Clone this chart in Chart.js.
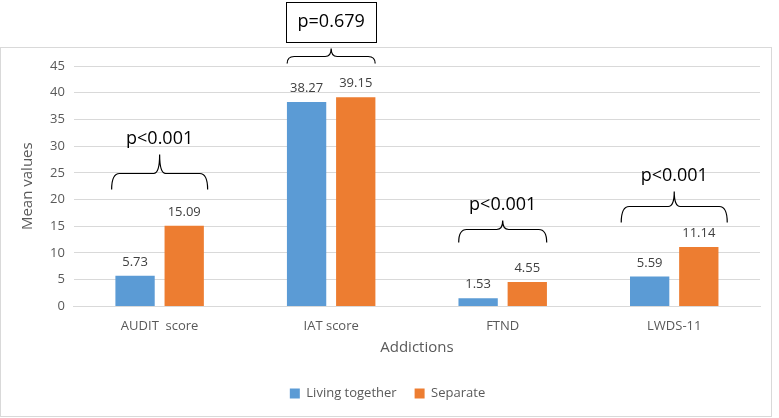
<!DOCTYPE html>
<html>
<head>
<meta charset="utf-8">
<script src="https://cdn.jsdelivr.net/npm/chart.js@4"></script>
<style>
  html, body { margin: 0; padding: 0; background: #fff; }
  canvas { display: block; }
</style>
</head>
<body>
<canvas id="myChart" width="779" height="418"></canvas>
<script>
// data
var categories = ['AUDIT  score', 'IAT score', 'FTND', 'LWDS-11'];
var livingTogether = [5.73, 38.27, 1.53, 5.59];
var separate = [15.09, 39.15, 4.55, 11.14];
var pValues = ['p<0.001', 'p=0.679', 'p<0.001', 'p<0.001'];
var braceLevels = [25.0, 46.9, 14.5, 18.8];   // y value of each brace line
var yMin = 0, yMax = 45, yStep = 5;

// brace shape (pixels)
var braceHalf = [48, 44, 44, 53];
var braceDrop = [16, 7, 13, 16];
var braceRise = [19, 8, 9, 15];
var boxed = [false, true, false, false];

var grey = '#595959';
var font = '"Open Sans", "Noto Sans", sans-serif';

var frame = {
    id: 'frame',
    beforeDraw: function (chart) {
        var c = chart.ctx;
        c.save();
        c.fillStyle = '#fff';
        c.fillRect(0, 0, chart.width, chart.height);
        c.strokeStyle = '#d9d9d9';
        c.lineWidth = 1;
        c.strokeRect(0.5, 47.5, 771, 369);
        c.restore();
    }
};

var barLabels = {
    id: 'barLabels',
    afterDatasetsDraw: function (chart) {
        var c = chart.ctx;
        c.save();
        c.fillStyle = '#404040';
        c.font = '13px ' + font;
        c.textAlign = 'center';
        c.textBaseline = 'bottom';
        chart.data.datasets.forEach(function (ds, i) {
            chart.getDatasetMeta(i).data.forEach(function (bar, j) {
                c.fillText(ds.data[j].toFixed(2), bar.x, bar.y - 7);
            });
        });
        c.restore();
    }
};

var braces = {
    id: 'braces',
    afterDraw: function (chart) {
        var c = chart.ctx;
        var xs = chart.scales.x, ys = chart.scales.y;
        c.save();
        c.strokeStyle = '#000';
        c.lineWidth = 1.2;
        braceLevels.forEach(function (lvl, i) {
            var xc = xs.getPixelForValue(i);
            var yH = Math.round(ys.getPixelForValue(lvl)) + 0.5;
            var h = braceHalf[i], d = braceDrop[i], r = braceRise[i];
            var x0 = xc - h, x1 = xc + h;
            var k = Math.min(8, d);
            c.beginPath();
            c.moveTo(x0, yH + d);
            c.quadraticCurveTo(x0, yH, x0 + k, yH);
            c.lineTo(xc - 6, yH);
            c.quadraticCurveTo(xc, yH, xc, yH - r);
            c.quadraticCurveTo(xc, yH, xc + 6, yH);
            c.lineTo(x1 - k, yH);
            c.quadraticCurveTo(x1, yH, x1, yH + d);
            c.stroke();

            var tip = yH - r;
            c.font = '18px ' + font;
            c.textAlign = 'center';
            c.textBaseline = 'middle';
            c.fillStyle = '#000';
            if (boxed[i]) {
                var bb = Math.round(tip - 7);
                c.fillStyle = '#fff';
                c.fillRect(xc - 45, bb - 40, 90, 40);
                c.lineWidth = 1;
                c.strokeRect(Math.round(xc - 45) + 0.5, bb - 40 + 0.5, 90, 40);
                c.fillStyle = '#000';
                c.fillText(pValues[i], xc, bb - 20);
                c.lineWidth = 1.2;
            } else {
                c.fillText(pValues[i], xc, tip - 16);
            }
        });
        c.restore();
    }
};

var ctx = document.getElementById('myChart').getContext('2d');
var chart = new Chart(ctx, {
    type: 'bar',
    data: {
        labels: categories,
        datasets: [{
            label: 'Living together',
            data: livingTogether,
            backgroundColor: '#5B9BD5',
            borderWidth: 0
        }, {
            label: 'Separate',
            data: separate,
            backgroundColor: '#ED7D31',
            borderWidth: 0
        }]
    },
    options: {
        responsive: false,
        animation: false,
        devicePixelRatio: 1,
        layout: { padding: { top: 66, left: 15, right: 19, bottom: 8 } },
        datasets: { bar: { categoryPercentage: 0.573, barPercentage: 0.8 } },
        scales: {
            x: {
                grid: { display: false },
                border: { display: true, color: '#d9d9d9' },
                ticks: { color: grey, font: { family: font, size: 13 }, padding: 4 },
                title: { display: true, text: 'Addictions', color: grey, font: { family: font, size: 15 }, padding: { top: 1, bottom: 12 } }
            },
            y: {
                min: yMin,
                max: yMax,
                ticks: { stepSize: yStep, color: grey, font: { family: font, size: 13 }, padding: 9 },
                grid: { color: '#d9d9d9', drawTicks: false },
                border: { display: false },
                title: { display: true, text: 'Mean values', color: grey, font: { family: font, size: 15 } }
            }
        },
        plugins: {
            legend: {
                position: 'bottom',
                labels: { boxWidth: 10, boxHeight: 10, color: grey, font: { family: font, size: 13 }, padding: 18 }
            },
            tooltip: { enabled: false }
        }
    },
    plugins: [frame, barLabels, braces]
});
</script>
</body>
</html>
